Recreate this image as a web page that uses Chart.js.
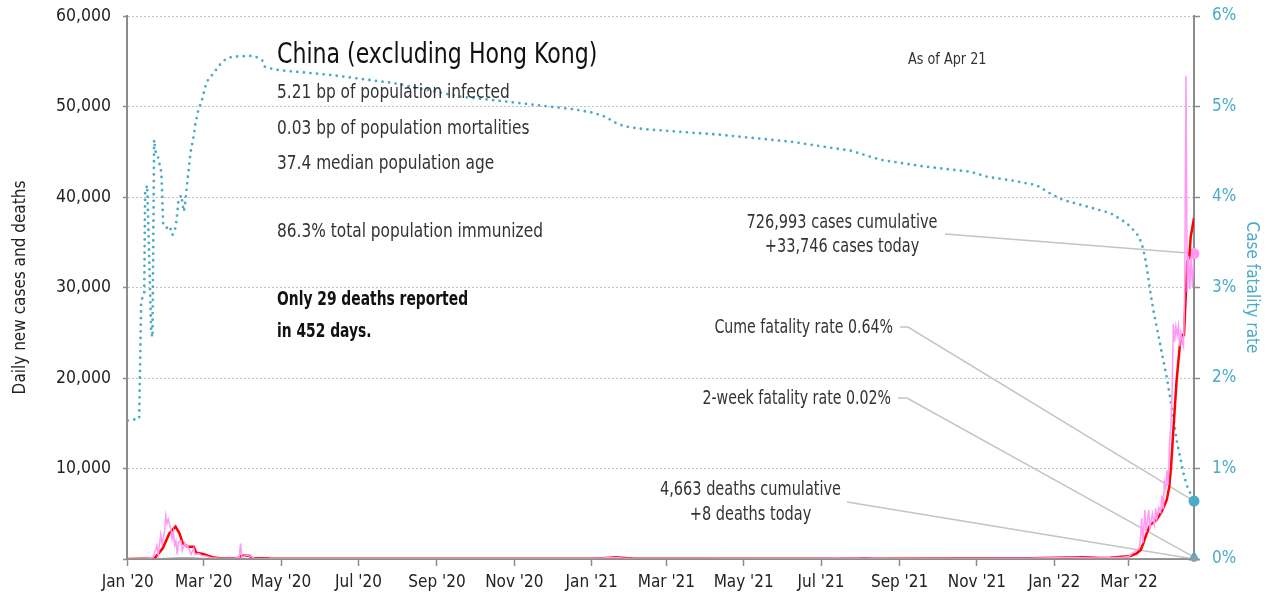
<!DOCTYPE html>
<html>
<head>
<meta charset="utf-8">
<script src="https://cdn.jsdelivr.net/npm/chart.js@4/dist/chart.umd.min.js"></script>
<style>
  body { margin: 0; background: #fff; }
  #wrap { width: 1268px; height: 600px; }
</style>
</head>
<body>
<div id="wrap"><canvas id="myChart"></canvas></div>
<script>
// x values are days since 1 Jan 2020
var tickDays = [0, 60, 121, 182, 244, 305, 366, 425, 486, 547, 609, 670, 731, 790];
var tickLabels = ["Jan '20", "Mar '20", "May '20", "Jul '20", "Sep '20", "Nov '20", "Jan '21",
  "Mar '21", "May '21", "Jul '21", "Sep '21", "Nov '21", "Jan '22", "Mar '22"];
var lastDay = 841.3;

// daily new cases (pink)
var dailyDays = [0, 15, 20, 23, 24, 26, 27, 29, 30, 31, 32, 33, 34, 35, 36, 37, 38, 39, 40, 42, 43, 45, 46, 47, 49, 50, 52, 53,
  56, 58, 62, 66, 72, 85, 88, 89, 90, 94, 97, 100, 120, 150, 200, 250, 300, 340, 365, 375, 385, 390, 400, 450, 500, 550,
  575, 580, 600, 650, 700, 730, 745, 760, 775, 785, 790, 795, 798, 799, 800, 801, 802.5, 803.5, 805.5, 806.5, 808.5, 810,
  811, 812, 813.5, 815, 816, 817, 818, 819, 820, 821, 822, 823, 824, 825, 826, 827, 828, 829, 830, 831, 832, 833, 834,
  835, 836, 837, 838, 839, 840, lastDay];
var dailyCases = [0, 0, 200, 1500, 400, 2700, 1700, 3000, 4800, 3900, 4400, 3800, 3300, 2200, 3000, 1500, 2000, 500, 1900,
  2000, 900, 1800, 1400, 1500, 900, 500, 1200, 500, 600, 400, 300, 150, 80, 100, 200, 1700, 200, 400, 300, 50, 20, 30,
  20, 15, 20, 20, 60, 120, 160, 100, 40, 10, 15, 30, 100, 90, 40, 30, 60, 150, 200, 120, 150, 200, 300, 900, 1200, 2000,
  4500, 1800, 5400, 3000, 5400, 3500, 5000, 3800, 5600, 4400, 5700, 5200, 7000, 5500, 8500, 7800, 9800, 8200, 13000,
  14600, 18300, 26000, 24000, 25700, 24700, 25700, 23500, 25000, 24000, 23500, 30000, 53400, 29500, 33500, 29800, 33400,
  30000, 33746];

// 7-day average of cases (red)
var avgDays = [0, 21, 27.6, 32.9, 37.7, 40.8, 43.4, 47.4, 52.1, 54, 59.2, 66.9, 72.4, 86.6, 89.5, 96, 98.4, 112, 200, 300,
  365, 378, 385, 392, 400, 560, 575, 581, 590, 700, 733, 745, 753, 767, 775, 791, 796, 799.3, 801.3, 804, 806.6, 811.8,
  815.8, 819.8, 821.8, 823.2, 825, 827.6, 830.3, 831.6, 833.4, 835, 836, 837.6, 838.7, lastDay];
var avgCases = [0, 50, 1180, 2840, 3570, 2840, 1730, 1360, 1360, 700, 550, 190, 80, 90, 370, 370, 100, 50, 30, 20, 40, 120,
  180, 120, 40, 30, 80, 90, 40, 60, 150, 200, 180, 100, 150, 330, 630, 1000, 1730, 2840, 3760, 4310, 5230, 6520, 7990,
  10200, 14250, 19780, 23830, 24750, 24750, 29720, 32850, 33400, 35600, 37650];

// daily deaths (grey)
var deathDays = [0, 20, 30, 40, 50, 60, 70, 90, 835, lastDay];
var dailyDeaths = [0, 0, 60, 110, 100, 50, 20, 0, 5, 8];

// case fatality rate, % (dotted, right axis)
var cfrDays = [0, 9, 10.6, 13, 13.7, 15.3, 16, 18.5, 19.5, 20.8, 22, 23.2, 24.5, 26.4, 27, 27.9, 30, 31.5, 33.7, 35.3, 37.7,
  39, 40, 42.2, 44.2, 45, 46.9, 48.2, 49.5, 52.1, 53.4, 54.8, 56, 58.2, 62.1, 66.6, 73.2, 77.1, 82.4, 98.2, 102.6, 106.1,
  108.2, 112.7, 119.8, 159.2, 209, 230.3, 261.9, 301.4, 351.6, 367.6, 378, 383.2, 392, 407, 465.5, 524, 571, 582.4,
  594.3, 626.6, 664.5, 679, 699, 717, 729, 737.6, 758, 775.6, 788.2, 796, 800, 802.6, 804.4, 806.6, 809.2, 811.8, 814.5,
  817, 819.8, 822.4, 825, 827.6, 830.3, 832.9, 836, lastDay];
var cfrPct = [1.53, 1.55, 2.85, 2.94, 4.05, 4.13, 3.8, 2.5, 2.45, 4.63, 4.5, 4.48, 4.4, 4.28, 4.1, 3.71, 3.7, 3.63, 3.65,
  3.58, 3.66, 3.81, 3.96, 4.02, 3.84, 3.9, 4.15, 4.32, 4.49, 4.68, 4.81, 4.9, 4.98, 5.05, 5.27, 5.35, 5.47, 5.52, 5.55,
  5.56, 5.54, 5.51, 5.44, 5.42, 5.40, 5.35, 5.26, 5.2, 5.11, 5.05, 4.97, 4.93, 4.88, 4.83, 4.78, 4.75, 4.69, 4.61, 4.51,
  4.46, 4.41, 4.34, 4.28, 4.22, 4.18, 4.13, 4.03, 3.97, 3.89, 3.82, 3.71, 3.6, 3.49, 3.34, 3.19, 2.97, 2.75, 2.57, 2.38,
  2.2, 2.01, 1.79, 1.57, 1.31, 1.13, 0.95, 0.80, 0.64];

// latest values
var casesToday = 33746;
var deathsToday = 8;
var cumeCfr = 0.64;
var twoWeekCfr = 0.02;

var headline = 'China (excluding Hong Kong)';
var statLines = ['5.21 bp of population infected', '0.03 bp of population mortalities', '37.4 median population age',
  '86.3% total population immunized'];
var boldLines = ['Only 29 deaths reported', 'in 452 days.'];
var asOf = 'As of Apr 21';
var casesNote = ['726,993 cases cumulative', '+33,746 cases today'];
var cumeNote = 'Cume fatality rate 0.64%';
var twoWeekNote = '2-week fatality rate 0.02%';
var deathsNote = ['4,663 deaths cumulative', '+8 deaths today'];

var FONT = "'DejaVu Sans Condensed', 'Liberation Sans Narrow', Roboto, sans-serif";
var TEAL = '#4aabc6';
var AXIS = '#8c8c8c';

function pts(xs, ys) {
  return xs.map((x, i) => ({ x: x, y: ys[i] }));
}

// text squeezed sideways, the original uses a condensed face
function say(ctx, s, x, y, align, font, color, sx) {
  ctx.save();
  ctx.font = font;
  ctx.fillStyle = color;
  ctx.textAlign = align;
  ctx.textBaseline = 'middle';
  ctx.translate(x, y);
  ctx.scale(sx, 1);
  ctx.fillText(s, 0, 0);
  ctx.restore();
}

Chart.defaults.font.family = FONT;
Chart.defaults.color = '#222';

// leader lines and text notes
const notes = {
  id: 'notes',
  beforeDatasetsDraw(chart) {
    const ctx = chart.ctx;
    const x = chart.scales.x, y = chart.scales.y, y1 = chart.scales.y1;
    const ex = x.getPixelForValue(lastDay);
    ctx.save();
    ctx.strokeStyle = '#c4c4c4';
    ctx.lineWidth = 1.5;
    const seg = (p) => {
      ctx.beginPath();
      ctx.moveTo(p[0][0], p[0][1]);
      for (let i = 1; i < p.length; i++) ctx.lineTo(p[i][0], p[i][1]);
      ctx.stroke();
    };
    seg([[945, 234], [ex, y.getPixelForValue(casesToday)]]);
    seg([[900, 327], [908, 327], [ex, y1.getPixelForValue(cumeCfr)]]);
    seg([[898, 398], [907, 398], [ex, y1.getPixelForValue(twoWeekCfr)]]);
    seg([[847, 502], [ex, y.getPixelForValue(deathsToday)]]);
    ctx.restore();
  },
  afterDraw(chart) {
    const ctx = chart.ctx;
    say(ctx, headline, 277, 55, 'left', '29px ' + FONT, '#111', 0.846);
    [93, 128.5, 163.5, 232].forEach((yy, i) => say(ctx, statLines[i], 277, yy, 'left', '19.5px ' + FONT, '#333', 0.877));
    [300, 332].forEach((yy, i) => say(ctx, boldLines[i], 277, yy, 'left', 'bold 19.5px ' + FONT, '#111', 0.79));
    say(ctx, asOf, 908, 60, 'left', '15px ' + FONT, '#333', 0.95);
    const nf = '19px ' + FONT;
    say(ctx, casesNote[0], 842, 223, 'center', nf, '#333', 0.85);
    say(ctx, casesNote[1], 842, 247, 'center', nf, '#333', 0.85);
    say(ctx, deathsNote[0], 750.5, 490, 'center', nf, '#333', 0.85);
    say(ctx, deathsNote[1], 750.5, 515, 'center', nf, '#333', 0.85);
    say(ctx, cumeNote, 893, 328, 'right', nf, '#333', 0.83);
    say(ctx, twoWeekNote, 891, 399, 'right', nf, '#333', 0.83);
  }
};

const ctx = document.getElementById('myChart');
var myChart = new Chart(ctx, {
  type: 'line',
  data: {
    datasets: [
      { label: 'Deaths', data: pts(deathDays, dailyDeaths), borderColor: '#9a9a9a', borderWidth: 1.5, pointRadius: 0, yAxisID: 'y' },
      { label: 'Daily cases', data: pts(dailyDays, dailyCases), borderColor: '#ff99f5', borderWidth: 1.5, pointRadius: 0, yAxisID: 'y' },
      { label: '7-day avg', data: pts(avgDays, avgCases), borderColor: '#ff0000', borderWidth: 2.5, pointRadius: 0, yAxisID: 'y' },
      { label: 'CFR', data: pts(cfrDays, cfrPct), borderColor: TEAL, borderWidth: 2.8, borderDash: [0, 6.6],
        borderCapStyle: 'round', pointRadius: 0, yAxisID: 'y1' },
      { label: 'deaths today', data: [{ x: lastDay, y: deathsToday }], pointRadius: 3, pointBackgroundColor: '#9a9a9a',
        pointBorderWidth: 0, showLine: false, clip: false, yAxisID: 'y' },
      { label: 'cases today', data: [{ x: lastDay, y: casesToday }], pointRadius: 5.5, pointBackgroundColor: '#ff99f5',
        pointBorderWidth: 0, showLine: false, clip: false, yAxisID: 'y' },
      { label: 'cume cfr', data: [{ x: lastDay, y: cumeCfr }], pointRadius: 5.5, pointBackgroundColor: TEAL,
        pointBorderWidth: 0, showLine: false, clip: false, yAxisID: 'y1' },
      { label: '2-week cfr', data: [{ x: lastDay, y: twoWeekCfr }], pointRadius: 6.5, pointStyle: 'triangle',
        pointBackgroundColor: TEAL, pointBorderWidth: 0, showLine: false, clip: false, yAxisID: 'y1' }
    ]
  },
  options: {
    responsive: true,
    maintainAspectRatio: false,
    animation: false,
    layout: { padding: { top: 16, left: 0, right: 0, bottom: 0 } },
    elements: { line: { tension: 0 } },
    plugins: { legend: { display: false }, tooltip: { enabled: false } },
    scales: {
      x: {
        type: 'linear',
        min: -0.6,
        max: lastDay,
        afterBuildTicks: (s) => { s.ticks = tickDays.map(v => ({ value: v })); },
        afterFit: (s) => { s.height = 41; s.paddingLeft = 0; s.paddingRight = 0; },
        ticks: {
          autoSkip: false, maxRotation: 0, padding: 6, color: '#222',
          font: { size: 17 },
          callback: (v, i) => tickLabels[i]
        },
        grid: { drawOnChartArea: false, tickLength: 7, tickColor: AXIS, tickWidth: 1.5 },
        border: { color: AXIS, width: 2 }
      },
      y: {
        position: 'left',
        min: 0,
        max: 60000,
        afterFit: (s) => { s.width = 127; s.paddingTop = 0; s.paddingBottom = 0; },
        ticks: {
          stepSize: 10000, padding: 12, color: '#222', font: { size: 17.5 },
          callback: (v) => v === 0 ? '' : v.toLocaleString('en-US')
        },
        grid: { color: '#c0c0c0', lineWidth: 1, tickLength: 4, tickColor: AXIS, tickWidth: 1.5 },
        border: { color: AXIS, width: 2, dash: [2, 2] },
        title: { display: true, text: 'Daily new cases and deaths', color: '#222', font: { size: 17 }, padding: { top: 10 } }
      },
      y1: {
        position: 'right',
        min: 0,
        max: 6,
        afterFit: (s) => { s.width = 74; s.paddingTop = 0; s.paddingBottom = 0; },
        ticks: {
          stepSize: 1, padding: 12, color: TEAL, font: { size: 17 },
          callback: (v) => v + '%'
        },
        grid: { drawOnChartArea: false, tickLength: 6, tickColor: AXIS, tickWidth: 1.5 },
        border: { color: AXIS, width: 2 },
        title: { display: true, text: 'Case fatality rate', color: TEAL, font: { size: 17 }, padding: { top: 6 } }
      }
    }
  },
  plugins: [notes]
});
</script>
</body>
</html>
